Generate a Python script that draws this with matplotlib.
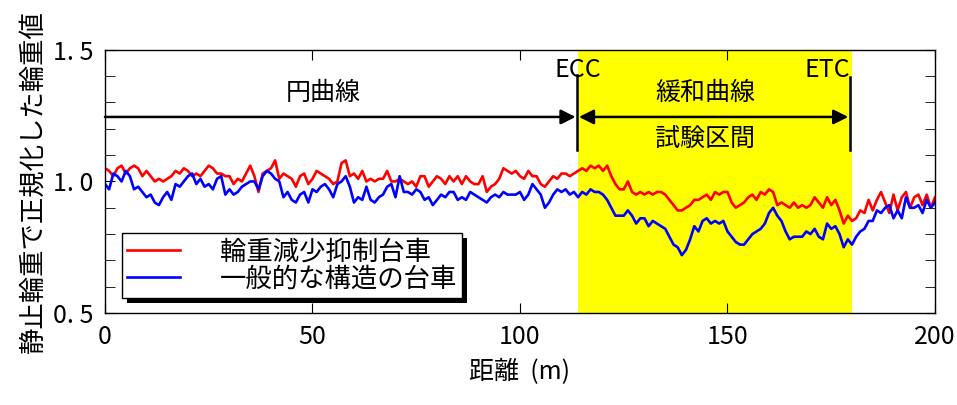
import numpy as np
import matplotlib
matplotlib.use("Agg")
import matplotlib.pyplot as plt
from matplotlib.patches import Rectangle
from matplotlib.ticker import MultipleLocator, FixedLocator

plt.rcParams['font.family'] = ['Noto Sans CJK JP', 'DejaVu Sans']

# normalised wheel load, one value per metre (0..200 m)
red_load = [
    1.05, 1.04, 1.02, 1.05, 1.06, 1.03, 1.05, 1.06, 1.05, 1.02,
    1.04, 1.02, 1.00, 1.01, 1.00, 1.01, 1.02, 1.04, 1.03, 1.05,
    1.04, 1.02, 1.03, 1.02, 1.04, 1.06, 1.05, 1.03, 1.03, 1.02,
    1.02, 0.99, 1.01, 1.00, 1.03, 1.06, 1.02, 0.96, 1.03, 1.04,
    1.05, 1.08, 1.01, 1.03, 1.02, 1.01, 0.98, 1.02, 1.03, 0.99,
    1.01, 1.04, 1.03, 1.02, 1.01, 0.99, 1.00, 1.07, 1.08,
    1.02, 1.03, 1.01, 1.04, 1.00, 1.01, 1.00, 1.01, 1.01, 1.04,
    1.00, 1.00, 1.01, 1.00, 0.99, 1.00, 0.98, 1.02, 1.02, 0.98,
    1.00, 1.02, 1.01, 0.99, 1.02, 1.00, 1.02, 0.99,
    1.02, 1.00, 0.99, 0.99, 1.02, 0.96, 0.98, 0.99, 1.01, 1.05,
    1.04, 1.03, 1.04, 1.02, 1.01, 1.04, 1.02, 1.02, 0.99, 0.98,
    1.00, 1.02, 1.01, 1.03, 1.03, 1.02, 1.03, 1.04, 1.05,
    1.04, 1.06, 1.05, 1.06, 1.04, 1.06, 1.02, 0.99, 0.97, 0.97,
    1.00, 0.96, 0.95, 0.96, 0.95, 0.96, 0.95, 0.96, 0.96, 0.95,
    0.93, 0.91, 0.89, 0.89, 0.90, 0.91, 0.93, 0.93, 0.94,
    0.95, 0.93, 0.96, 0.95, 0.96, 0.96, 0.92, 0.90, 0.91, 0.92,
    0.94, 0.95, 0.93, 0.96, 0.95, 0.97, 0.96, 0.91, 0.92, 0.91,
    0.90, 0.92, 0.90, 0.91, 0.90, 0.91, 0.94, 0.92, 0.90,
    0.94, 0.91, 0.93, 0.89, 0.84, 0.87, 0.85, 0.86, 0.89, 0.88,
    0.93, 0.89, 0.93, 0.96, 0.92, 0.88, 0.95, 0.89, 0.94, 0.96,
    0.90, 0.94, 0.95, 0.91, 0.95, 0.90, 0.94,
]

blue_load = [
    0.99, 0.97, 1.03, 1.02, 1.00, 1.04, 1.02, 0.97, 0.98, 0.96,
    0.94, 0.95, 0.92, 0.91, 0.94, 0.96, 0.93, 0.99, 0.98, 1.00,
    1.02, 1.03, 0.99, 1.01, 0.98, 0.99, 0.97, 1.01, 1.02, 0.95,
    0.97, 0.95, 0.96, 0.98, 0.99, 1.00, 1.00, 0.97, 1.02, 1.04,
    1.03, 1.01, 1.00, 0.94, 0.96, 0.93, 0.92, 0.95, 0.96, 0.92,
    0.97, 0.96, 0.98, 0.99, 0.97, 0.94, 0.99, 1.00, 1.02,
    0.98, 0.92, 0.94, 0.93, 0.98, 0.93, 0.92, 0.94, 0.95, 0.98,
    0.99, 0.94, 1.02, 0.96, 0.96, 0.95, 0.97, 0.96, 0.93, 0.94,
    0.91, 0.93, 0.95, 0.94, 0.96, 0.96, 0.93, 0.94,
    0.93, 0.96, 0.95, 0.94, 0.93, 0.92, 0.94, 0.95, 0.94, 0.96,
    0.95, 0.95, 0.95, 0.96, 0.93, 0.95, 0.99, 0.97, 0.95, 0.90,
    0.92, 0.95, 0.97, 0.96, 0.97, 0.95, 0.96, 0.94, 0.96,
    0.95, 0.97, 0.96, 0.96, 0.95, 0.93, 0.90, 0.87, 0.87, 0.87,
    0.89, 0.87, 0.84, 0.86, 0.86, 0.83, 0.85, 0.84, 0.83, 0.82,
    0.79, 0.76, 0.75, 0.72, 0.74, 0.78, 0.83, 0.81, 0.85,
    0.86, 0.84, 0.85, 0.84, 0.85, 0.81, 0.79, 0.77, 0.76, 0.76,
    0.78, 0.80, 0.81, 0.82, 0.84, 0.88, 0.90, 0.87, 0.85, 0.81,
    0.78, 0.79, 0.79, 0.79, 0.81, 0.80, 0.82, 0.79, 0.78,
    0.84, 0.82, 0.83, 0.80, 0.75, 0.78, 0.76, 0.79, 0.81, 0.82,
    0.85, 0.85, 0.89, 0.88, 0.90, 0.91, 0.86, 0.89, 0.86, 0.94,
    0.90, 0.90, 0.91, 0.88, 0.93, 0.90, 0.92,
]

series_labels = ['輪重減少抑制台車', '一般的な構造の台車']
ecc_pos = 114
etc_pos = 180
y_ticks = [0.5, 1.0, 1.5]
y_tick_labels = ['0. 5', '1. 0', '1. 5']
x_ticks = [0, 50, 100, 150, 200]

fig = plt.figure(figsize=(9.57, 4.05), dpi=100)
ax = fig.add_axes([0.1097, 0.227, 0.8673, 0.65])

# test section (transition curve)
ax.axvspan(ecc_pos, etc_pos, color='#ffff00', zorder=0, lw=0)

ax.plot(np.arange(len(red_load)), red_load, color='#ff0000', lw=1.9, label=series_labels[0])
ax.plot(np.arange(len(blue_load)), blue_load, color='#0000ff', lw=1.9, label=series_labels[1])

ax.set_xlim(0, 200)
ax.set_ylim(0.5, 1.5)
ax.xaxis.set_major_locator(FixedLocator(x_ticks))
ax.yaxis.set_major_locator(FixedLocator(y_ticks))
ax.set_yticklabels(y_tick_labels)
ax.yaxis.set_minor_locator(MultipleLocator(0.1))
ax.tick_params(which='both', direction='in', top=True, right=True, labelsize=18, pad=8)
ax.tick_params(which='major', length=7)
ax.tick_params(which='minor', length=7)
for s in ax.spines.values():
    s.set_linewidth(1.0)

ax.set_xlabel('距離  (m)', fontsize=18, labelpad=6)
ax.set_ylabel('静止輪重で正規化した輪重値', fontsize=19, labelpad=5)

# section markers
ax.plot([ecc_pos - 0.2, ecc_pos - 0.2], [1.12, 1.405], color='black', lw=1.8)
ax.plot([etc_pos - 0.5, etc_pos - 0.5], [1.12, 1.395], color='black', lw=1.8)
ax.text(ecc_pos, 1.425, 'ECC', fontsize=18, ha='center', va='center')
ax.text(etc_pos - 6, 1.425, 'ETC', fontsize=18, ha='center', va='center')

ax.annotate('', xy=(ecc_pos - 0.6, 1.245), xytext=(0, 1.245),
            arrowprops=dict(arrowstyle='-|>', color='black', lw=1.8, mutation_scale=22,
                            shrinkA=0, shrinkB=0))
ax.annotate('', xy=(etc_pos - 0.9, 1.245), xytext=(ecc_pos + 0.2, 1.245),
            arrowprops=dict(arrowstyle='<|-|>', color='black', lw=1.8, mutation_scale=22,
                            shrinkA=0, shrinkB=0))
ax.text(52.5, 1.336, '円曲線', fontsize=18, ha='center', va='center')
ax.text(144.6, 1.336, '緩和曲線', fontsize=18, ha='center', va='center')
ax.text(144.6, 1.157, '試験区間', fontsize=18, ha='center', va='center')

leg = ax.legend(loc='upper left', bbox_to_anchor=(0.0205, 0.304), fontsize=19,
                frameon=True, fancybox=False, edgecolor='black', framealpha=1,
                handlelength=2.0, borderpad=0.2, labelspacing=0.0,
                handletextpad=1.5, borderaxespad=0)
leg.get_frame().set_linewidth(1.0)
leg.set_zorder(6)

# solid black drop shadow behind the legend box
fig.canvas.draw()
bb = leg.get_window_extent().transformed(fig.transFigure.inverted())
dx, dy = 5 / 957, 5 / 405
ax.add_patch(Rectangle((bb.x0 + dx, bb.y0 - dy), bb.width, bb.height,
                       transform=fig.transFigure, facecolor='black',
                       edgecolor='none', zorder=5.5, clip_on=False))

fig.savefig('out.png', dpi=100)
